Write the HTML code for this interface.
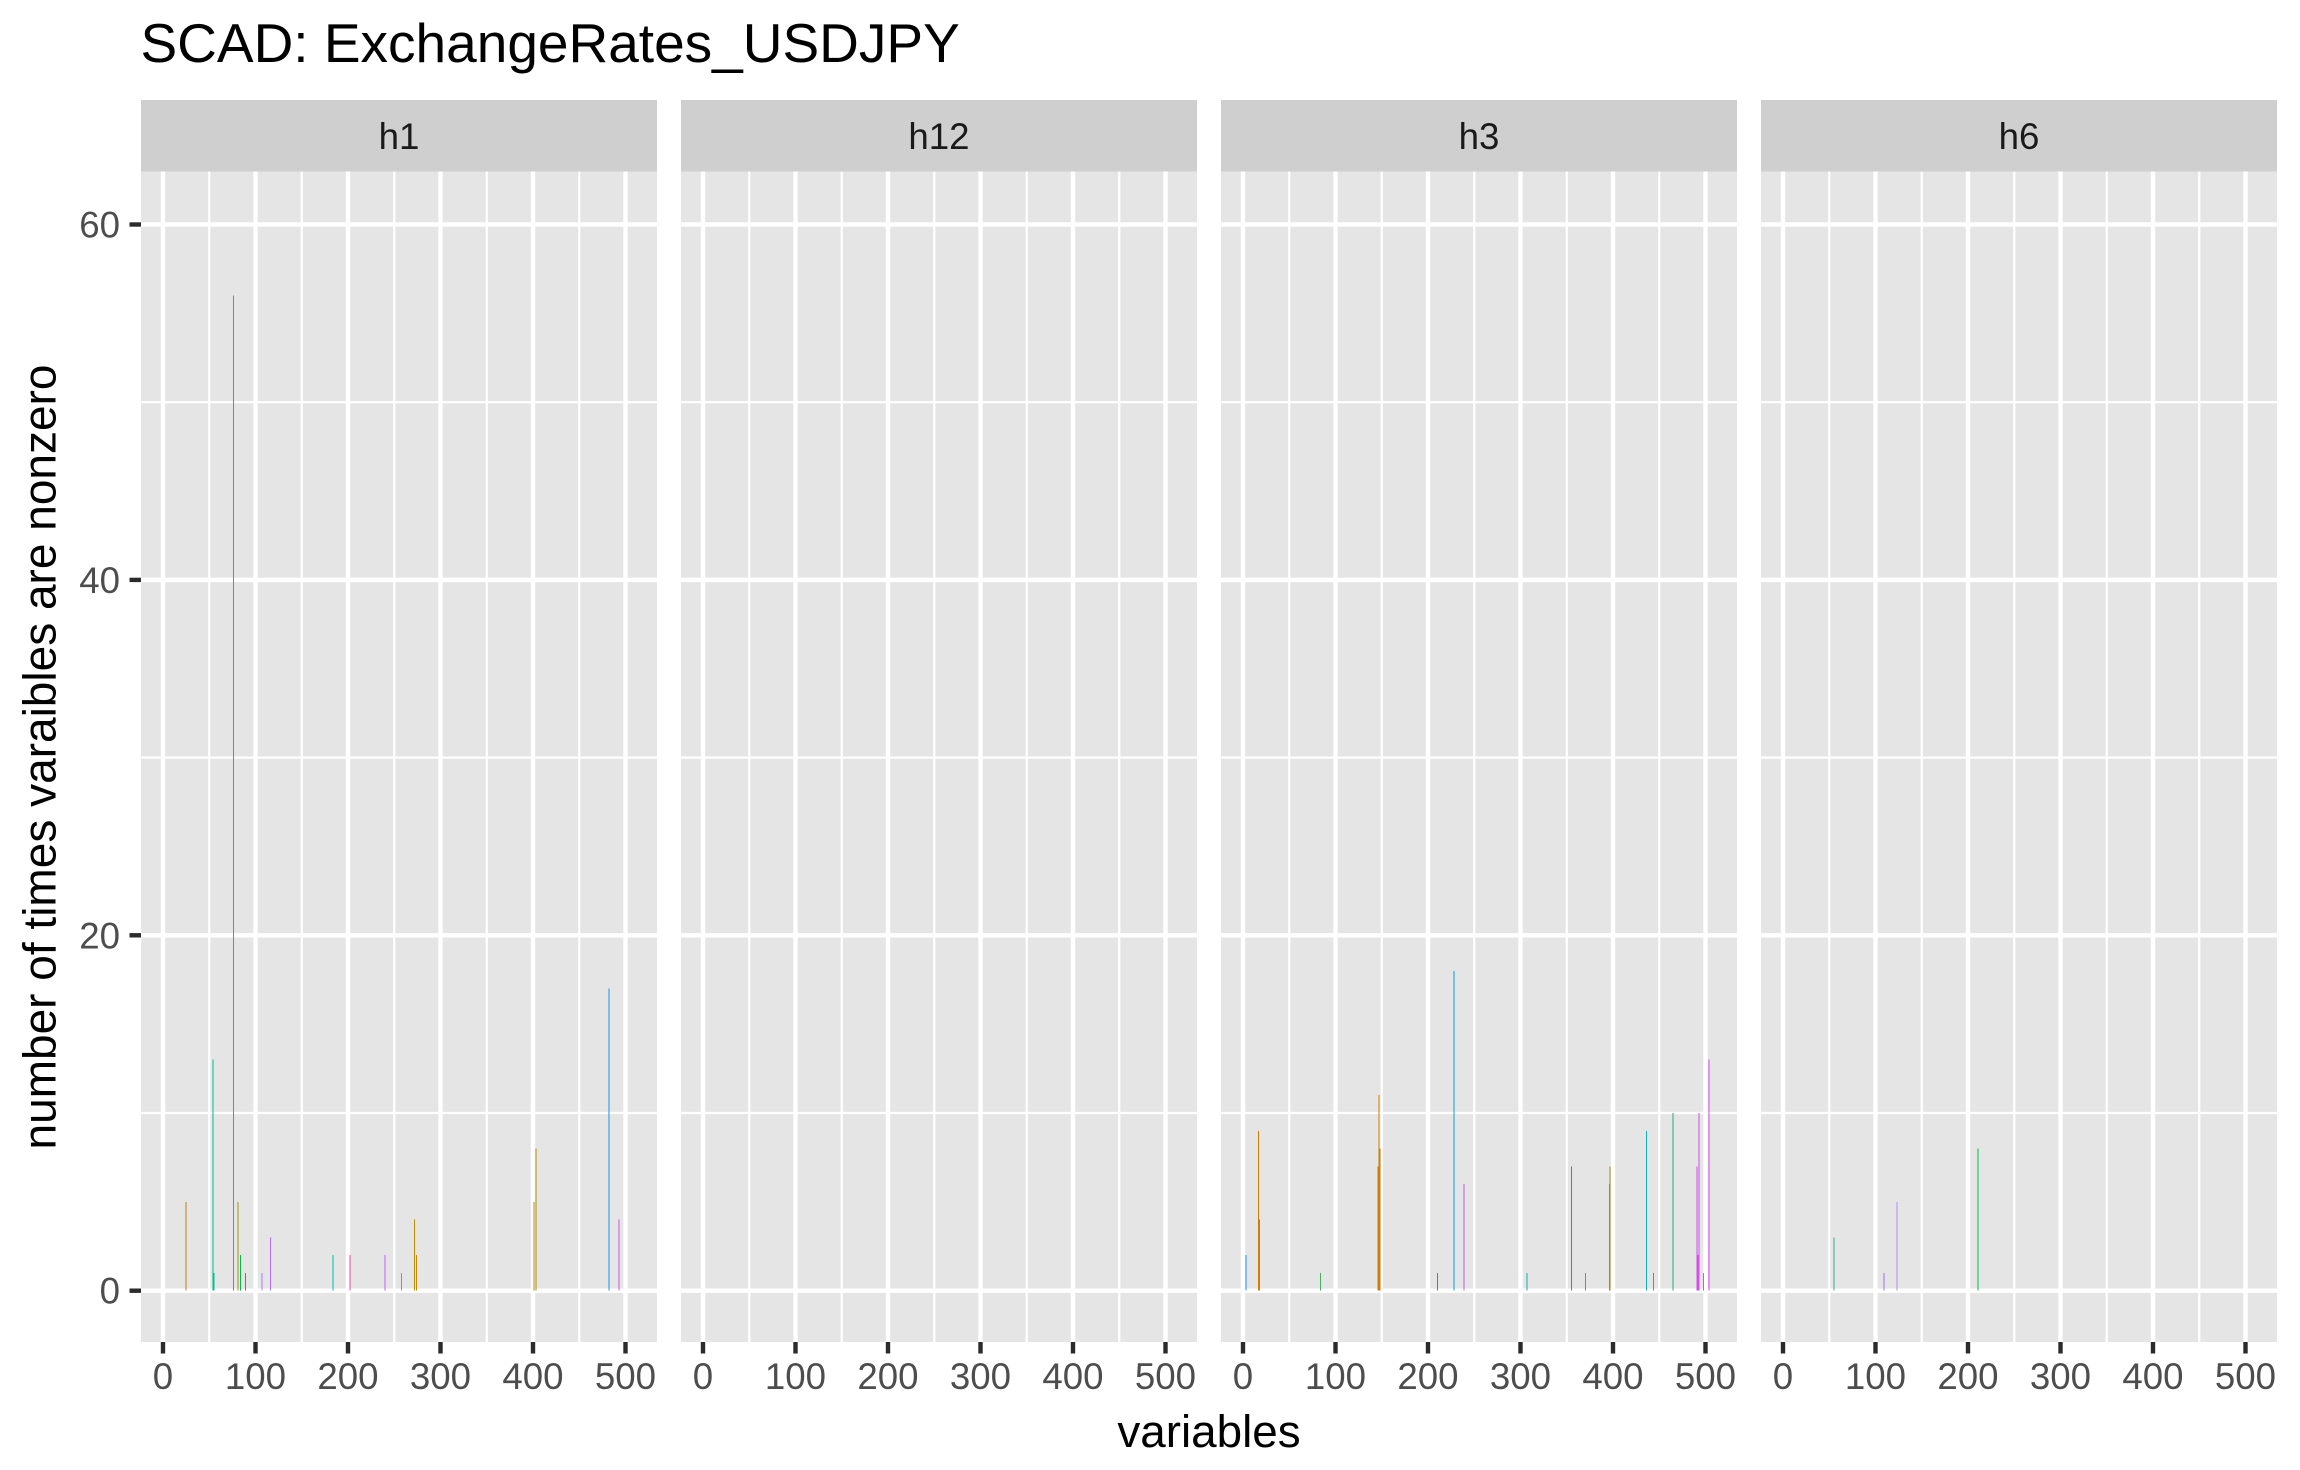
<!DOCTYPE html>
<html>
<head>
<meta charset="utf-8">
<title>SCAD: ExchangeRates_USDJPY</title>
<style>
html,body{margin:0;padding:0;background:#fff;}
svg{display:block;font-family:"Liberation Sans",Arial,sans-serif;}
</style>
</head>
<body>
<svg id="chart" xmlns="http://www.w3.org/2000/svg" width="2300" height="1470" viewBox="0 0 2300 1470">
<rect width="2300" height="1470" fill="#ffffff"/>
<text x="140.5" y="62" font-size="55" fill="#000">SCAD: ExchangeRates_USDJPY</text>
<text transform="translate(55.5,757) rotate(-90)" text-anchor="middle" font-size="46" fill="#000">number of times varaibles are nonzero</text>
<text x="1209" y="1447" text-anchor="middle" font-size="45.8" fill="#000">variables</text>
</svg>
<script>
// Data
const panelLabels = ['h1', 'h12', 'h3', 'h6'];
const xTicks = [0, 100, 200, 300, 400, 500];
const xMinorTicks = [50, 150, 250, 350, 450];
const yTicks = [0, 20, 40, 60];
const yMinorTicks = [10, 30, 50];

const h1Vars = [25, 54, 55, 76, 81, 84, 89, 107, 116, 184, 202, 240, 258, 272, 274, 401, 403, 482, 493];
const h1Counts = [5, 13, 1, 56, 5, 2, 1, 1, 3, 2, 2, 2, 1, 4, 2, 5, 8, 17, 4];
const h1Colors = ['#C97C10', '#00BE96', '#00BF9A', '#F7459E', '#A89600', '#00BA50', '#14B14C', '#A97BFF', '#AE6CFF', '#00BDA8', '#FF43A0', '#C65CFF', '#6C8CFF', '#C08A00', '#B88E00', '#AC8C00', '#AC8E00', '#1C95E8', '#D058E8'];

const h12Vars = [];
const h12Counts = [];
const h12Colors = [];

const h3Vars = [3, 17, 18, 84, 146, 147, 148, 210, 228, 239, 307, 355, 370, 396, 397, 436, 444, 465, 491, 492, 493, 498, 504];
const h3Counts = [2, 9, 4, 1, 7, 11, 8, 1, 18, 6, 1, 7, 1, 6, 7, 9, 1, 10, 7, 2, 10, 1, 13];
const h3Colors = ['#1A96FF', '#D07C00', '#D08000', '#44B060', '#CE7E00', '#CE7E00', '#CE7E00', '#00BA50', '#00A5DC', '#B860E8', '#10AEB0', '#1E90E0', '#E040F0', '#AC8C00', '#AC8C00', '#10AEC4', '#00B4D8', '#20AE80', '#D050E8', '#E048F0', '#D050E8', '#C858E8', '#E048F0'];

const h6Vars = [55, 109, 123, 211];
const h6Counts = [3, 1, 5, 8];
const h6Colors = ['#30B090', '#9A70F0', '#B090F8', '#00BA50'];

// Layout
const NS = 'http://www.w3.org/2000/svg';
const svg = document.getElementById('chart');
const panelLeft0 = 141, panelStep = 540, panelW = 516;
const stripTop = 100, panelTop = 171.5, panelBottom = 1342;
const xZero = 22, xScale = 0.925;
const yZero = 1290.7, yScale = 17.77;
const barW = 1;

function xPos(panelIdx, v) { return panelLeft0 + panelStep * panelIdx + xZero + v * xScale; }
function yPos(v) { return yZero - v * yScale; }

function make(tag, attrs, parent) {
  const el = document.createElementNS(NS, tag);
  for (const k in attrs) el.setAttribute(k, attrs[k]);
  (parent || svg).appendChild(el);
  return el;
}

const panelVars = [h1Vars, h12Vars, h3Vars, h6Vars];
const panelCounts = [h1Counts, h12Counts, h3Counts, h6Counts];
const panelColors = [h1Colors, h12Colors, h3Colors, h6Colors];

panelLabels.forEach(function (label, p) {
  const left = panelLeft0 + panelStep * p;

  const strip = make('rect', {x: left, y: stripTop, width: panelW, height: panelTop - stripTop, fill: '#CFCFCF'});
  
  

  const stripText = make('text', {x: left + panelW / 2, y: 149, 'text-anchor': 'middle', 'font-size': 36.67, fill: '#1A1A1A'});
  stripText.textContent = label;
  
  

  const bg = make('rect', {x: left, y: panelTop, width: panelW, height: panelBottom - panelTop, fill: '#E5E5E5'});
  
  

  yMinorTicks.forEach(function (t) {
    const g = make('line', {x1: left, x2: left + panelW, y1: yPos(t), y2: yPos(t), stroke: '#fff', 'stroke-width': 2.2});
    
    
  });
  xMinorTicks.forEach(function (t) {
    const g = make('line', {x1: xPos(p, t), x2: xPos(p, t), y1: panelTop, y2: panelBottom, stroke: '#fff', 'stroke-width': 2.2});
    
    
  });
  yTicks.forEach(function (t) {
    const g = make('line', {x1: left, x2: left + panelW, y1: yPos(t), y2: yPos(t), stroke: '#fff', 'stroke-width': 4.4});
    
    
  });
  xTicks.forEach(function (t) {
    const g = make('line', {x1: xPos(p, t), x2: xPos(p, t), y1: panelTop, y2: panelBottom, stroke: '#fff', 'stroke-width': 4.4});
    
    

    const tick = make('line', {x1: xPos(p, t), x2: xPos(p, t), y1: panelBottom, y2: panelBottom + 11.5, stroke: '#2B2B2B', 'stroke-width': 4.4});
    
    

    const lab = make('text', {x: xPos(p, t), y: 1389, 'text-anchor': 'middle', 'font-size': 36.67, fill: '#4D4D4D'});
    lab.textContent = String(t);
    
    
  });

  panelVars[p].forEach(function (v, i) {
    const c = panelCounts[p][i];
    const bar = make('rect', {x: xPos(p, v) - barW / 2, y: yPos(c), width: barW, height: yPos(0) - yPos(c), fill: panelColors[p][i], 'shape-rendering': 'crispEdges'});
    
    
  });
});

yTicks.forEach(function (t) {
  const tick = make('line', {x1: panelLeft0 - 11.5, x2: panelLeft0, y1: yPos(t), y2: yPos(t), stroke: '#2B2B2B', 'stroke-width': 4.4});
  
  

  const lab = make('text', {x: 120, y: yPos(t) + 13, 'text-anchor': 'end', 'font-size': 36.67, fill: '#4D4D4D'});
  lab.textContent = String(t);
  
  
});
</script>
</body>
</html>
